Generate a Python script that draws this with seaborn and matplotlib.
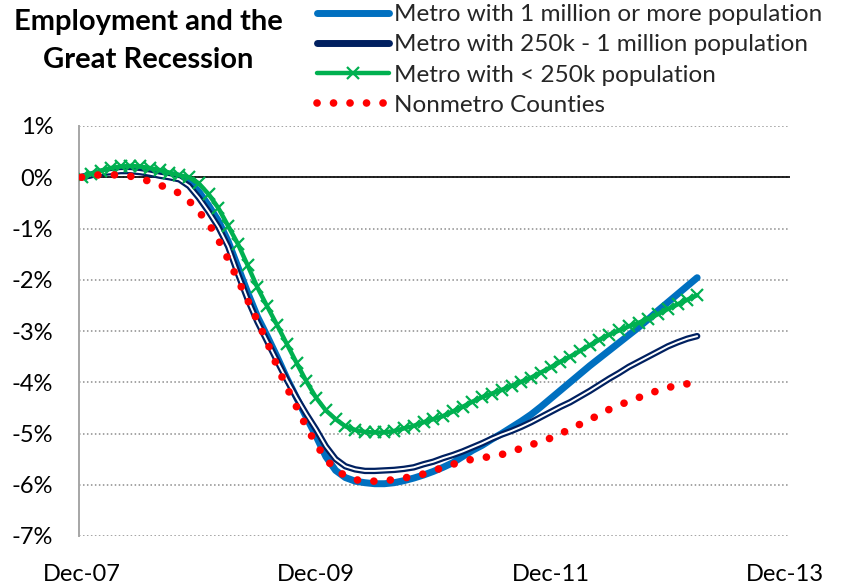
import matplotlib
matplotlib.use("Agg")
import matplotlib.pyplot as plt
import matplotlib.patheffects as pe
from matplotlib.lines import Line2D
import seaborn as sns
import pandas as pd

# ---------------- data (percent change in employment since Dec-07) ----------------
months = list(range(64))  # months since Dec-07

metro_1m = [0, 0.05, 0.1, 0.14, 0.17, 0.18, 0.17, 0.14, 0.1, 0.05,
            0.02, -0.08, -0.28, -0.55, -0.85, -1.25, -1.75, -2.25, -2.72, -3.1,
            -3.5, -3.92, -4.3, -4.68, -5.05, -5.45, -5.72, -5.86, -5.93, -5.96,
            -5.98, -5.98, -5.96, -5.92, -5.87, -5.81, -5.74, -5.66, -5.57, -5.45,
            -5.33, -5.23, -5.11, -5.0, -4.88, -4.76, -4.63, -4.48, -4.32, -4.16,
            -4.0, -3.84, -3.68, -3.53, -3.38, -3.23, -3.08, -2.93, -2.77, -2.6,
            -2.44, -2.28, -2.12, -1.96]

metro_250k = [0, 0.04, 0.08, 0.1, 0.12, 0.12, 0.1, 0.07, 0.03, 0.0,
              -0.04, -0.17, -0.4, -0.67, -0.97, -1.35, -1.88, -2.38, -2.82, -3.2,
              -3.58, -3.95, -4.3, -4.62, -4.92, -5.25, -5.5, -5.64, -5.7, -5.73,
              -5.73, -5.72, -5.71, -5.69, -5.66, -5.6, -5.55, -5.48, -5.42, -5.35,
              -5.27, -5.19, -5.1, -5.02, -4.95, -4.87, -4.78, -4.68, -4.58, -4.48,
              -4.39, -4.28, -4.17, -4.05, -3.93, -3.82, -3.7, -3.6, -3.5, -3.4,
              -3.3, -3.22, -3.15, -3.1]

metro_small = [0, 0.07, 0.13, 0.18, 0.21, 0.22, 0.21, 0.18, 0.14, 0.09,
               0.04, 0.0, -0.12, -0.33, -0.6, -0.95, -1.3, -1.72, -2.15, -2.52,
               -2.88, -3.25, -3.62, -3.98, -4.3, -4.55, -4.72, -4.86, -4.93, -4.97,
               -4.98, -4.98, -4.95, -4.9, -4.85, -4.78, -4.72, -4.66, -4.57, -4.48,
               -4.38, -4.29, -4.22, -4.15, -4.07, -3.99, -3.91, -3.81, -3.71, -3.6,
               -3.5, -3.39, -3.28, -3.17, -3.07, -2.99, -2.91, -2.84, -2.76, -2.67,
               -2.57, -2.48, -2.39, -2.3]

nonmetro = [0, 0.03, 0.05, 0.05, 0.04, 0.02, -0.03, -0.08, -0.15, -0.23,
            -0.31, -0.46, -0.67, -0.9, -1.22, -1.6, -2.0, -2.4, -2.8, -3.22,
            -3.68, -4.1, -4.48, -4.87, -5.2, -5.5, -5.7, -5.83, -5.9, -5.93,
            -5.93, -5.92, -5.9, -5.87, -5.83, -5.79, -5.73, -5.66, -5.6, -5.55,
            -5.5, -5.47, -5.45, -5.41, -5.35, -5.29, -5.22, -5.16, -5.09, -5.0,
            -4.92, -4.82, -4.73, -4.63, -4.53, -4.45, -4.37, -4.3, -4.23, -4.16,
            -4.1, -4.07, -4.03, -4.0]

series_labels = ["Metro with 1 million or more population",
                 "Metro with 250k - 1 million population",
                 "Metro with < 250k population",
                 "Nonmetro Counties"]
x_tick_pos = [0, 24, 48, 72]
x_tick_labels = ["Dec-07", "Dec-09", "Dec-11", "Dec-13"]
y_ticks = list(range(-7, 2))
y_tick_labels = [f"{v}%" for v in y_ticks]
title_lines = ["Employment and the", "Great Recession"]

# ---------------- style ----------------
sns.set_theme(style="white")
plt.rcParams["font.family"] = ["Lato", "DejaVu Sans"]

C_BLUE = "#0070C0"
C_NAVY = "#002060"
C_GREEN = "#00B050"
C_RED = "#FF0000"

df = pd.DataFrame({"month": months, "m1": metro_1m, "m250": metro_250k,
                   "msmall": metro_small, "non": nonmetro})

fig = plt.figure(figsize=(8.48, 5.84), dpi=100)
W, H = 848, 584
ax = fig.add_axes([79 / W, (H - 536) / H, (790 - 79) / W, (536 - 126) / H])

red_dots = (0, (0.01, 2.15))

sns.lineplot(data=df, x="month", y="m1", ax=ax, color=C_BLUE, linewidth=5.0,
             solid_capstyle="round", zorder=2, legend=False)
sns.lineplot(data=df, x="month", y="m250", ax=ax, color="white", linewidth=1.4,
             solid_capstyle="round", zorder=3, legend=False,
             path_effects=[pe.Stroke(linewidth=4.6, foreground=C_NAVY), pe.Normal()])
sns.lineplot(data=df, x="month", y="msmall", ax=ax, color=C_GREEN, linewidth=3.2,
             marker="x", markersize=9, markeredgewidth=1.6, markeredgecolor=C_GREEN,
             zorder=4, legend=False)
sns.lineplot(data=df, x="month", y="non", ax=ax, color=C_RED, linewidth=5.5,
             linestyle=red_dots, dash_capstyle="round", zorder=5, legend=False)

ax.axhline(0, color="black", linewidth=1.2, zorder=1.5)

ax.set_xlim(-0.26, 72.5)
ax.set_ylim(-7, 1)
ax.set_xticks(x_tick_pos)
ax.set_xticklabels(x_tick_labels)
ax.set_yticks(y_ticks)
ax.set_yticklabels(y_tick_labels)
ax.set_xlabel("")
ax.set_ylabel("")
ax.yaxis.grid(True, linestyle=(0, (1, 1.6)), color="#8c8c8c", linewidth=1.1, zorder=0)
ax.xaxis.grid(False)
for s in ["top", "right", "bottom"]:
    ax.spines[s].set_visible(False)
ax.spines["left"].set_color("#a6a6a6")
ax.spines["left"].set_linewidth(1.4)
ax.tick_params(axis="both", length=0, labelsize=17, colors="black")
ax.tick_params(axis="y", pad=18.5)
ax.tick_params(axis="x", pad=20)

# title
fig.text(148 / W, 1 - 22 / H, title_lines[0], ha="center", va="center",
         fontsize=21, fontweight="bold", color="black")
fig.text(148 / W, 1 - 60 / H, title_lines[1], ha="center", va="center",
         fontsize=21, fontweight="bold", color="black")

# legend
handles = [
    Line2D([], [], color=C_BLUE, linewidth=5.0, solid_capstyle="round"),
    Line2D([], [], color=C_NAVY, linewidth=5.0, solid_capstyle="round"),
    Line2D([], [], color=C_GREEN, linewidth=3.2, marker="x", markersize=9,
           markeredgewidth=1.6),
    Line2D([], [], color=C_RED, linewidth=5.5, linestyle=red_dots,
           dash_capstyle="round"),
]
fig.legend(handles, series_labels, loc="upper left",
           bbox_to_anchor=(317 / W, 1 - 4 / H), frameon=False, fontsize=17.5,
           handlelength=2.95, handletextpad=0.2, labelspacing=0.38,
           borderpad=0, borderaxespad=0, numpoints=1)

fig.savefig("out.png", dpi=100)
